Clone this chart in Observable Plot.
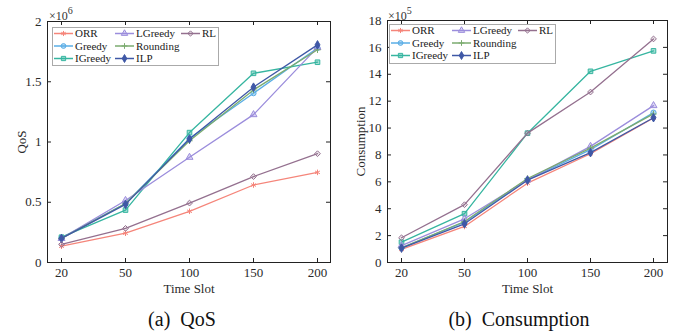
<!DOCTYPE html>
<html><head><meta charset="utf-8">
<script src="https://cdn.jsdelivr.net/npm/d3@7"></script>
<script src="https://cdn.jsdelivr.net/npm/@observablehq/plot@0.6"></script>
<style>
body{margin:0;background:#fff;font-family:"Liberation Serif","Times New Roman",serif;}
#root{position:relative;width:678px;height:333px;overflow:hidden;background:#fff;}
.panel{position:absolute;top:0;width:339px;height:300px;}
.cap{position:absolute;top:308px;font-size:20px;transform:translateX(-50%);white-space:nowrap;color:#111;}
.legend{position:absolute;}
.exp{position:absolute;font-size:12px;color:#333;white-space:nowrap;line-height:1;}
.exp sup{font-size:10px;position:relative;top:-1px;}
</style>
</head><body>
<div id="root"></div>
<script>
// ---- data ----
const slots = [20, 50, 100, 150, 200];
const seriesNames = ["ORR", "Greedy", "IGreedy", "LGreedy", "Rounding", "ILP", "RL"];

// QoS (x10^6)
const qosORR      = [0.135, 0.243, 0.425, 0.643, 0.748];
const qosGreedy   = [0.205, 0.490, 1.030, 1.405, 1.780];
const qosIGreedy  = [0.210, 0.435, 1.078, 1.570, 1.662];
const qosLGreedy  = [0.200, 0.515, 0.873, 1.227, 1.785];
const qosRounding = [0.200, 0.490, 1.010, 1.432, 1.765];
const qosILP      = [0.200, 0.482, 1.025, 1.455, 1.806];
const qosRL       = [0.150, 0.283, 0.493, 0.713, 0.903];
const qosTicks = [0, 0.5, 1, 1.5, 2];

// Consumption (x10^5)
const conORR      = [0.97, 2.68, 5.90, 8.09, 10.75];
const conGreedy   = [1.09, 3.00, 6.15, 8.39, 11.15];
const conIGreedy  = [1.51, 3.63, 9.62, 14.22, 15.74];
const conLGreedy  = [1.25, 3.25, 6.15, 8.64, 11.67];
const conRounding = [1.09, 3.05, 6.25, 8.51, 11.05];
const conILP      = [1.07, 2.88, 6.12, 8.17, 10.77];
const conRL       = [1.84, 4.30, 9.62, 12.68, 16.63];
const conTicks = [0, 2, 4, 6, 8, 10, 12, 14, 16, 18];

// ---- styles ----
const colors  = ["#f5857a", "#5aaee6", "#36b5a0", "#9b8ddc", "#7bab6f", "#3f58a6", "#94708f"];
const symbols = ["asterisk", "circle", "square", "triangle", "plus", "diamond", "diamond2"];
const fills   = [null, 0.45, 0.45, 0.35, null, 1, 0.15];

const FONT = "'Liberation Serif', 'Times New Roman', serif";

function makePanel({values, yMax, yTicks, ylabel, mL, mR, mT, ylabelOffset}) {
  const W = 339, H = 300, mB = 38;
  const fw = W - mL - mR, fh = H - mT - mB;
  const rows = seriesNames.map((n, i) => slots.map((s, j) => ({series: n, slot: s, v: values[i][j]})));
  const seriesMarks = seriesNames.flatMap((n, i) => [
    Plot.line(rows[i], {x: "slot", y: "v", stroke: colors[i], strokeWidth: 1.3}),
    Plot.dot(rows[i], {x: "slot", y: "v", symbol: symbols[i], r: symbols[i] === "plus" ? 2.2 : 2.6,
      stroke: colors[i], strokeWidth: 1,
      fill: fills[i] == null ? "none" : colors[i], fillOpacity: fills[i] == null ? 0 : fills[i]})
  ]);
  return Plot.plot({
    width: W, height: H, marginLeft: mL, marginRight: mR, marginTop: mT, marginBottom: mB,
    style: {fontFamily: FONT, fontSize: "13px", color: "#2a2a2a", background: "transparent"},
    x: {type: "point", domain: slots, padding: 0.2},
    y: {domain: [0, yMax]},
    marks: [
      Plot.axisX({tickSize: 0, tickPadding: 5, label: "Time Slot", labelAnchor: "center", labelArrow: false, labelOffset: 30, tickFormat: d => String(d)}),
      Plot.axisY({ticks: yTicks, tickSize: 0, tickPadding: 6, tickFormat: d => String(d), label: ylabel, labelAnchor: "center", labelArrow: false, labelOffset: ylabelOffset}),
      Plot.tickX(slots, {x: d => d, insetTop: fh - 4, stroke: "#222"}),
      Plot.tickX(slots, {x: d => d, insetBottom: fh - 4, stroke: "#222"}),
      Plot.tickY(yTicks, {y: d => d, insetRight: fw - 4, stroke: "#222"}),
      Plot.tickY(yTicks, {y: d => d, insetLeft: fw - 4, stroke: "#222"}),
      ...seriesMarks,
      Plot.frame({stroke: "#222", strokeWidth: 1})
    ]
  });
}

function makeLegend(left, top, w, h) {
  const colX = [2, 63, 129], rowY = [6.5, 19, 31.5];
  const svg = d3.create("svg").attr("width", w).attr("height", h)
    .attr("class", "legend").style("left", left + "px").style("top", top + "px")
    .style("font-family", FONT).style("font-size", "11px");
  svg.append("rect").attr("x", 0.5).attr("y", 0.5).attr("width", w - 1).attr("height", h - 1)
    .attr("fill", "#fff").attr("stroke", "#aaa");
  const symMap = {asterisk: d3.symbolAsterisk, circle: d3.symbolCircle, square: d3.symbolSquare,
    triangle: d3.symbolTriangle, plus: d3.symbolPlus, diamond: d3.symbolDiamond, diamond2: d3.symbolDiamond2};
  seriesNames.forEach((n, i) => {
    const c = Math.floor(i / 3), r = i % 3;
    const x = colX[c], y = rowY[r];
    const g = svg.append("g");
    g.append("line").attr("x1", x).attr("x2", x + 19).attr("y1", y).attr("y2", y)
      .attr("stroke", colors[i]).attr("stroke-width", 1.5);
    const rr = symbols[i] === "plus" ? 2 : 2.4;
    g.append("path").attr("transform", `translate(${x + 9.5},${y})`)
      .attr("d", d3.symbol(symMap[symbols[i]], Math.PI * rr * rr)())
      .attr("stroke", colors[i]).attr("stroke-width", 1)
      .attr("fill", fills[i] == null ? "none" : colors[i]).attr("fill-opacity", fills[i] == null ? 0 : fills[i]);
    g.append("text").attr("x", x + 21).attr("y", y).attr("dy", "0.35em").attr("fill", "#222").text(n);
  });
  return svg.node();
}

function addExp(parent, left, base, pow) {
  const d = document.createElement("div");
  d.className = "exp"; d.style.left = left + "px"; d.style.top = "7px";
  d.innerHTML = "×" + base + "<sup>" + pow + "</sup>";
  parent.appendChild(d);
}

const root = document.getElementById("root");

const p1 = document.createElement("div"); p1.className = "panel"; p1.style.left = "0px";
p1.appendChild(makePanel({
  values: [qosORR, qosGreedy, qosIGreedy, qosLGreedy, qosRounding, qosILP, qosRL],
  yMax: 2, yTicks: qosTicks, ylabel: "QoS", mL: 47, mR: 9, mT: 21, ylabelOffset: 31
}));
p1.appendChild(makeLegend(52, 27, 167, 39));
addExp(p1, 49, "10", "6");
root.appendChild(p1);

const p2 = document.createElement("div"); p2.className = "panel"; p2.style.left = "339px";
p2.appendChild(makePanel({
  values: [conORR, conGreedy, conIGreedy, conLGreedy, conRounding, conILP, conRL],
  yMax: 18, yTicks: conTicks, ylabel: "Consumption", mL: 48, mR: 11, mT: 20, ylabelOffset: 32
}));
p2.appendChild(makeLegend(50, 24, 167, 40));
addExp(p2, 49, "10", "5");
root.appendChild(p2);

const c1 = document.createElement("div"); c1.className = "cap"; c1.style.left = "182px"; c1.innerHTML = "(a)&nbsp; QoS";
const c2 = document.createElement("div"); c2.className = "cap"; c2.style.left = "519px"; c2.innerHTML = "(b)&nbsp; Consumption";
root.appendChild(c1); root.appendChild(c2);
</script>
</body></html>
